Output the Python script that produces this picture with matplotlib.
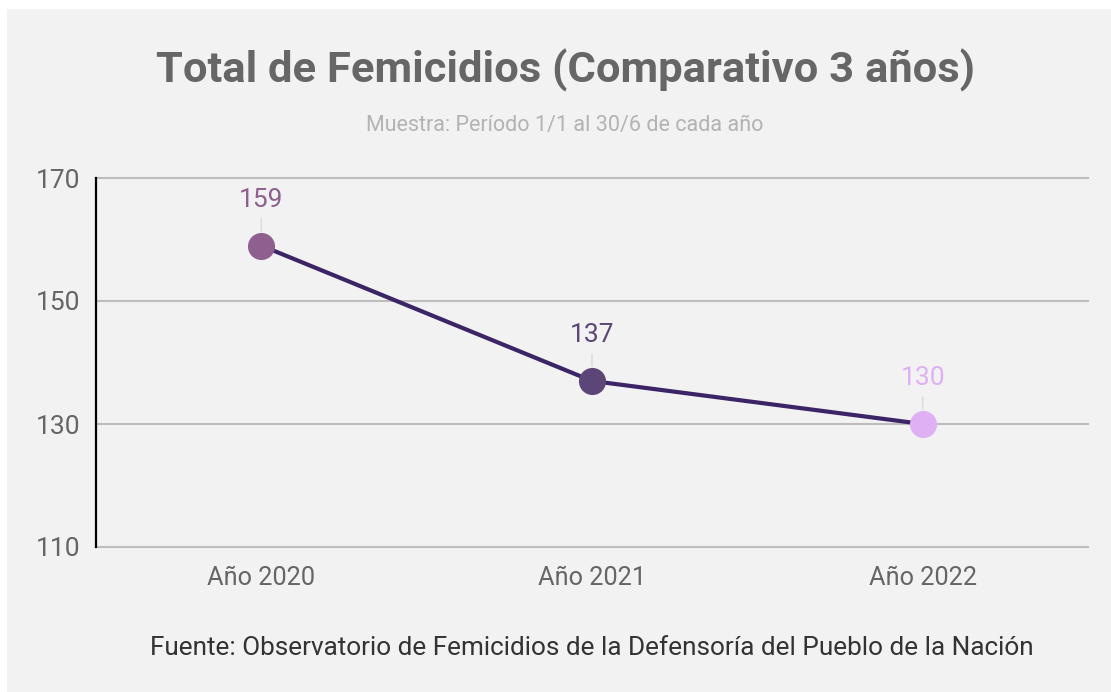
import matplotlib
matplotlib.use("Agg")
import matplotlib.pyplot as plt
from matplotlib.patches import Rectangle

categories = ["Año 2020", "Año 2021", "Año 2022"]
values = [159, 137, 130]
point_colors = ["#8e5f8f", "#5b4677", "#e0b0f5"]
yticks = [110, 130, 150, 170]

title = "Total de Femicidios (Comparativo 3 años)"
subtitle = "Muestra: Período 1/1 al 30/6 de cada año"
source = "Fuente: Observatorio de Femicidios de la Defensoría del Pueblo de la Nación"

plt.rcParams['font.family'] = ['Roboto', 'DejaVu Sans']

W, H = 1111, 692
fig = plt.figure(figsize=(W / 100, H / 100), dpi=100, facecolor="white")
bg = Rectangle((7 / W, 0), 1 - 7 / W, 1 - 9 / H, transform=fig.transFigure,
               facecolor="#f2f2f2", edgecolor="none", zorder=-10)
fig.patches.append(bg)

ax = fig.add_axes([96 / W, (H - 547) / H, 992 / W, 369 / H])
ax.set_facecolor("none")
ax.set_zorder(1)

xs = [i + 0.5 for i in range(len(categories))]
ax.set_xlim(0, len(categories))
ax.set_ylim(110, 170)

for t in yticks:
    ax.axhline(t, color="#bdbdbd", lw=1.5, zorder=1, clip_on=False)

ax.plot(xs, values, color="#3c2566", lw=3, zorder=3, solid_capstyle="round")
for x, v, c in zip(xs, values, point_colors):
    ax.plot([x], [v], "o", ms=19.5, color=c, mec="none", zorder=4)
    ax.annotate(str(v), xy=(x, v), xytext=(0, 33), textcoords="offset points",
                ha="center", va="center", fontsize=19, color=c,
                arrowprops=dict(arrowstyle="-", color="#d9d9d9", lw=1,
                                shrinkA=3, shrinkB=10.5), zorder=5)

ax.set_yticks(yticks)
ax.set_xticks(xs)
ax.set_xticklabels(categories)
ax.tick_params(axis="y", length=0, pad=11, labelsize=19, labelcolor="#656565")
ax.tick_params(axis="x", length=0, pad=14, labelsize=18.2, labelcolor="#656565")

for s in ["top", "right", "bottom"]:
    ax.spines[s].set_visible(False)
ax.spines["left"].set_color("black")
ax.spines["left"].set_linewidth(1.6)
ax.spines["left"].set_zorder(2)

fig.text(565 / W, 1 - 70 / H, title, ha="center", va="center",
         fontsize=31.3, fontweight="bold", color="#666666")
fig.text(565 / W, 1 - 126 / H, subtitle, ha="center", va="center",
         fontsize=15.5, color="#b3b3b3")
fig.text(592 / W, 1 - 648 / H, source, ha="center", va="center",
         fontsize=18.8, color="#333333")

fig.savefig("out.png", dpi=100, facecolor="white")
